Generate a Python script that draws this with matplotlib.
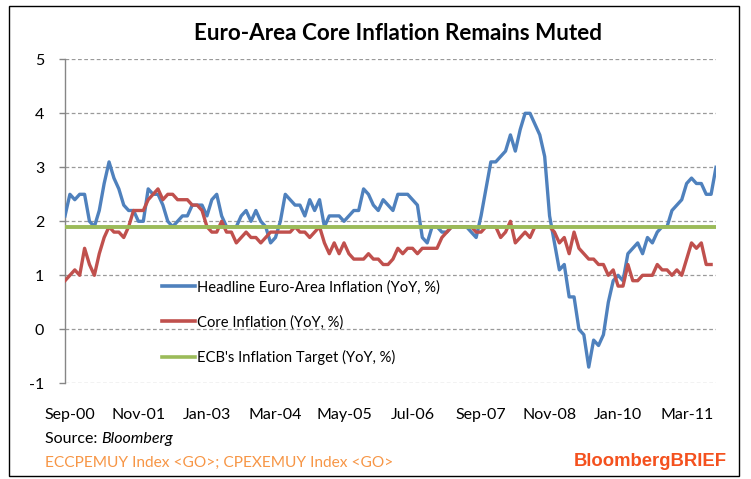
import numpy as np
import matplotlib
matplotlib.use("Agg")
import matplotlib.pyplot as plt
from matplotlib.patches import Rectangle
from matplotlib.lines import Line2D

# Monthly data, Aug 2000 .. Sep 2011
headline = [
    2.1, 2.5, 2.4, 2.5, 2.5,                       # Aug-Dec 2000
    2.0, 1.9, 2.2, 2.7, 3.1, 2.8, 2.6, 2.3, 2.2, 2.2, 2.0, 2.0,   # 2001
    2.6, 2.5, 2.5, 2.3, 2.0, 1.9, 2.0, 2.1, 2.1, 2.3, 2.3, 2.3,   # 2002
    2.1, 2.4, 2.5, 2.1, 1.9, 1.9, 1.9, 2.1, 2.2, 2.0, 2.2, 2.0,   # 2003
    1.9, 1.6, 1.7, 2.0, 2.5, 2.4, 2.3, 2.3, 2.1, 2.4, 2.2, 2.4,   # 2004
    1.9, 2.1, 2.1, 2.1, 2.0, 2.1, 2.2, 2.2, 2.6, 2.5, 2.3, 2.2,   # 2005
    2.4, 2.3, 2.2, 2.5, 2.5, 2.5, 2.4, 2.3, 1.7, 1.6, 1.9, 1.9,   # 2006
    1.8, 1.8, 1.9, 1.9, 1.9, 1.9, 1.8, 1.7, 2.1, 2.6, 3.1, 3.1,   # 2007
    3.2, 3.3, 3.6, 3.3, 3.7, 4.0, 4.0, 3.8, 3.6, 3.2, 2.1, 1.6,   # 2008
    1.1, 1.2, 0.6, 0.6, 0.0, -0.1, -0.7, -0.2, -0.3, -0.1, 0.5, 0.9,  # 2009
    1.0, 0.9, 1.4, 1.5, 1.6, 1.4, 1.7, 1.6, 1.8, 1.9, 1.9, 2.2,   # 2010
    2.3, 2.4, 2.7, 2.8, 2.7, 2.7, 2.5, 2.5, 3.0,                  # 2011
]

core = [
    0.9, 1.0, 1.1, 1.0, 1.5,                       # Aug-Dec 2000
    1.2, 1.0, 1.4, 1.7, 1.9, 1.8, 1.8, 1.7, 1.9, 2.2, 2.2, 2.2,   # 2001
    2.4, 2.5, 2.6, 2.4, 2.5, 2.5, 2.4, 2.4, 2.4, 2.3, 2.3, 2.2,   # 2002
    1.9, 1.8, 1.8, 2.0, 1.8, 1.8, 1.6, 1.7, 1.8, 1.7, 1.7, 1.6,   # 2003
    1.7, 1.8, 1.8, 1.8, 1.8, 1.8, 1.9, 1.8, 1.8, 1.7, 1.8, 1.9,   # 2004
    1.6, 1.4, 1.6, 1.4, 1.6, 1.4, 1.3, 1.3, 1.3, 1.4, 1.3, 1.3,   # 2005
    1.2, 1.2, 1.3, 1.5, 1.4, 1.5, 1.5, 1.4, 1.5, 1.5, 1.5, 1.5,   # 2006
    1.7, 1.8, 1.9, 1.9, 1.9, 1.9, 1.9, 1.8, 1.8, 1.9, 1.9, 1.9,   # 2007
    1.7, 1.8, 2.0, 1.6, 1.7, 1.8, 1.7, 1.9, 1.9, 1.9, 1.9, 1.8,   # 2008
    1.6, 1.7, 1.4, 1.8, 1.5, 1.4, 1.3, 1.3, 1.2, 1.2, 1.0, 1.1,   # 2009
    0.8, 0.8, 1.2, 0.9, 0.9, 1.0, 1.0, 1.0, 1.2, 1.1, 1.1, 1.0,   # 2010
    1.1, 1.0, 1.3, 1.6, 1.5, 1.6, 1.2, 1.2,                       # 2011
]

target = 1.9

tick_labels = ["Sep-00", "Nov-01", "Jan-03", "Mar-04", "May-05",
               "Jul-06", "Sep-07", "Nov-08", "Jan-10", "Mar-11"]
tick_start, tick_step = 1, 14
y_ticks = [-1, 0, 1, 2, 3, 4, 5]

series_labels = ["Headline Euro-Area Inflation (YoY, %)",
                 "Core Inflation (YoY, %)",
                 "ECB's Inflation Target (YoY, %)"]

FONT = "Lato"
plt.rcParams["font.family"] = [FONT, "DejaVu Sans"]

W, H = 751, 479
fig = plt.figure(figsize=(W / 100, H / 100), dpi=100)
fig.patch.set_facecolor("white")

L, R, T, B = 65, 716, 59.3, 383.3
ax = fig.add_axes([L / W, 1 - B / H, (R - L) / W, (B - T) / H])

x_head = np.arange(len(headline))
x_core = np.arange(len(core))

blue, red, green = "#4F81BD", "#C0504D", "#9BBB59"
lw = 2.4

ax.plot(x_head, headline, color=blue, lw=lw, solid_joinstyle="round", zorder=3)
ax.plot(x_core, core, color=red, lw=lw, solid_joinstyle="round", zorder=4)
ax.plot(x_head, [target] * len(headline), color=green, lw=lw + 0.4, zorder=5)

ax.set_xlim(0, len(headline) - 1)
ax.set_ylim(-1, 5)
ax.set_yticks(y_ticks)
ax.set_yticklabels([str(v) for v in y_ticks])
ax.set_xticks(np.arange(len(tick_labels)) * tick_step + tick_start)
ax.set_xticklabels(tick_labels)

for v in y_ticks:
    ax.axhline(v, color="#9A9A9A", lw=0.9, ls=(0, (3, 2)), zorder=1)

for s in ["top", "right", "bottom"]:
    ax.spines[s].set_visible(False)
ax.spines["left"].set_color("#868686")
ax.spines["left"].set_linewidth(1.0)

ax.tick_params(axis="y", length=4, width=1.0, color="#868686", pad=11,
               labelsize=11.5, labelcolor="black")
ax.tick_params(axis="x", length=0, pad=18, labelsize=11.5, labelcolor="black")

handles = [Line2D([], [], color=c, lw=lw + 0.2) for c in (blue, red, green)]
leg = ax.legend(handles, series_labels, loc="upper left",
                bbox_to_anchor=((162 - L) / (R - L), (B - 280) / (B - T)),
                frameon=False, fontsize=10.6, handlelength=2.25,
                handletextpad=0.12, labelspacing=1.4, borderpad=0,
                borderaxespad=0)

fig.text(398 / W, 1 - 33 / H, "Euro-Area Core Inflation Remains Muted",
         ha="center", va="center", fontsize=16.2, fontweight="bold")

src_y = 1 - 439 / H
src = fig.text(45 / W, src_y, "Source: ", ha="left", va="center", fontsize=11.5)
fig.canvas.draw()
bb = src.get_window_extent()
fig.text(bb.x1 / W, src_y, "Bloomberg", ha="left", va="center",
         fontsize=11.5, style="italic")

fig.text(45 / W, 1 - 463 / H, "ECCPEMUY Index <GO>; CPEXEMUY Index <GO>",
         ha="left", va="center", fontsize=11.2, color="#F79646")
fig.text(727 / W, 1 - 462 / H, "BloombergBRIEF", ha="right", va="center",
         fontsize=13.3, fontweight="bold", color="#F4511E",
         family=["Liberation Sans", "DejaVu Sans"])

fig.patches.append(Rectangle((9 / W, 1 - 476 / H), (739 - 9) / W, (476 - 6) / H,
                             transform=fig.transFigure, fill=False,
                             edgecolor="black", lw=1.0))

fig.savefig("out.png", dpi=100)
